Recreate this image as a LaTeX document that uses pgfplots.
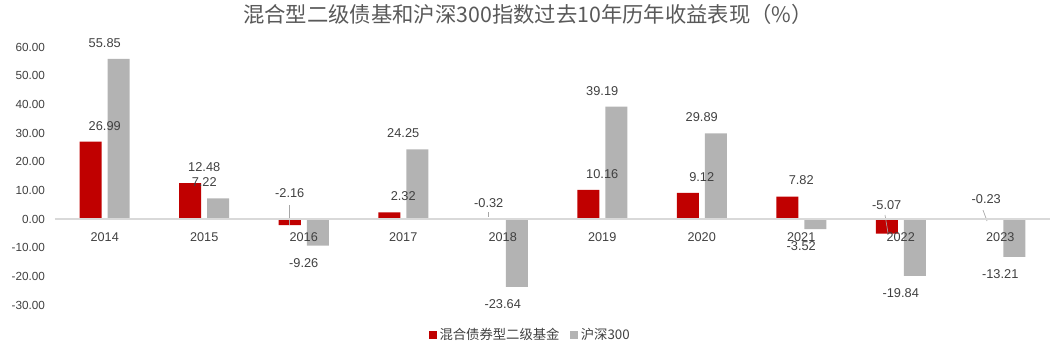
\documentclass[border=0pt]{standalone}
\usepackage{fontspec}
\setmainfont{Liberation Sans}
\newfontfamily\cjk{Noto Sans CJK SC}
\usepackage{pgfplots}
\pgfplotsset{compat=1.18}
\definecolor{barred}{HTML}{C00000}
\definecolor{bargray}{HTML}{B3B3B3}
\definecolor{txt}{HTML}{404040}
\definecolor{ttl}{HTML}{595959}
\definecolor{zline}{HTML}{D9D9D9}
\definecolor{leader}{HTML}{A6A6A6}
\begin{document}
\begin{tikzpicture}
\useasboundingbox (-41.25pt,-35.25pt) rectangle (751.5pt,228.75pt);
\begin{axis}[
  at={(0pt,0pt)}, anchor=south west,
  scale only axis, width=746.25pt, height=193.5pt,
  xmin=-0.5, xmax=9.5, ymin=-30, ymax=60, enlargelimits=false, clip=false,
  axis on top,
  axis x line=middle, axis y line=left,
  x axis line style={-, draw=zline, line width=0.9pt},
  y axis line style={draw=none},
  hide obscured x ticks=false, hide obscured y ticks=false,
  major tick length=0pt,
  xtick={0,1,2,3,4,5,6,7,8,9},
  xticklabels={2014,2015,2016,2017,2018,2019,2020,2021,2022,2023},
  xticklabel style={font=\fontsize{9.5}{11}\selectfont, text=txt, anchor=center, yshift=-13.5pt},
  ytick={-30,-20,-10,0,10,20,30,40,50,60},
  yticklabel={\pgfmathprintnumber[fixed,fixed zerofill,precision=2,assume math mode=true]{\tick}},
  yticklabel style={font=\fontsize{8.8}{10}\selectfont, text=txt, xshift=-4pt},
  legend style={at={(0.478,-0.116)}, anchor=center, draw=none, fill=none, legend columns=2,
    font=\cjk\fontsize{10}{12}\selectfont, text=txt, inner sep=0pt,
    /tikz/every even column/.append style={column sep=6pt}},
  legend image code/.code={\fill[#1] (0pt,-3pt) rectangle (6pt,3pt);},
]
\addplot[ybar, bar width=16.5pt, bar shift=-10.5pt, fill=barred, draw=none,
  nodes near coords, point meta=explicit symbolic,
  nodes near coords style={font=\fontsize{9.6}{11}\selectfont, text=txt, anchor=center, yshift=12pt}]
  coordinates {(0,26.99)[26.99] (1,12.48)[12.48] (2,-2.16)[] (3,2.32)[2.32] (4,-0.32)[]
               (5,10.16)[10.16] (6,9.12)[9.12] (7,7.82)[7.82] (8,-5.07)[] (9,-0.23)[]};
\addplot[ybar, bar width=16.5pt, bar shift=10.5pt, fill=bargray, draw=none,
  nodes near coords, point meta=explicit symbolic,
  visualization depends on=rawy\as\rawy,
  nodes near coords style={font=\fontsize{9.6}{11}\selectfont, text=txt, anchor=center, yshift={(\rawy>0)*25-13}}]
  coordinates {(0,55.85)[55.85] (1,7.22)[7.22] (2,-9.26)[-9.26] (3,24.25)[24.25] (4,-23.64)[-23.64]
               (5,39.19)[39.19] (6,29.89)[29.89] (7,-3.52)[-3.52] (8,-19.84)[-19.84] (9,-13.21)[-13.21]};
\addplot[draw=none, mark=none, forget plot, nodes near coords, point meta=explicit symbolic,
  nodes near coords style={font=\fontsize{9.6}{11}\selectfont, text=txt, anchor=center, xshift=-10.5pt}]
  coordinates {(2,9.1)[-2.16] (4,5.6)[-0.32] (8,4.9)[-5.07] (9,7.0)[-0.23]};
\draw[leader, line width=0.5pt] (axis cs:1.859,4.9) -- (axis cs:1.859,-2.1);
\draw[leader, line width=0.5pt] (axis cs:3.859,2.4) -- (axis cs:3.859,0.7);
\draw[leader, line width=0.5pt] (axis cs:7.842,1.4) -- (axis cs:7.872,-4.9);
\draw[leader, line width=0.5pt] (axis cs:8.827,3.1) -- (axis cs:8.867,-0.7);
\legend{混合债券型二级基金, 沪深300}
\end{axis}
\node[font=\cjk\fontsize{16}{19}\selectfont, text=ttl] at (354.75pt,218.25pt) {混合型二级债基和沪深300指数过去10年历年收益表现（\%）};
\end{tikzpicture}
\end{document}
